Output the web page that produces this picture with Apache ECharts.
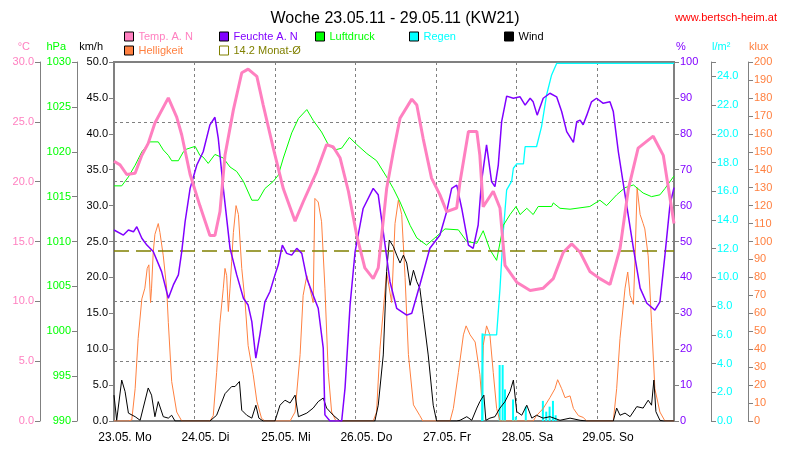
<!DOCTYPE html>
<html>
<head>
<meta charset="utf-8">
<script src="https://cdn.jsdelivr.net/npm/echarts@6.0.0/dist/echarts.min.js"></script>
<style>html,body{margin:0;padding:0;background:#fff}#c{width:790px;height:460px}</style>
</head>
<body>
<div id="c"></div>
<script>
// ---------- data (x = hours since 23.05. 00:00) ----------
const dayLabels = ['23.05. Mo','24.05. Di','25.05. Mi','26.05. Do','27.05. Fr','28.05. Sa','29.05. So'];
const monthAvgTemp = 14.2;

const tempHours = [0,1.8,3.8,6.3,8.3,10.2,12.2,16.2,18.7,20.2,22.7,25.6,28.6,30.1,31.6,33.1,35.6,38.1,40.0,42.6,44.5,47.5,50.5,54.0,56.4,60.4,63.4,65.4,67.4,69.9,72.4,74.8,77.3,78.8,81.3,83.3,85.3,88.8,90.3,92.2,94.7,97.2,99.2,102.2,103.2,105.7,108.2,109.1,110.1,113.1,115.1,116.6,120.1,124.1,128.0,131.0,134.0,136.5,139.0,141.9,144.9,147.9,150.9,153.4,156.3,160.8,163.8,167];
const tempValues = [21.7,21.4,20.6,20.7,22.2,23.2,24.9,27.0,25.4,23.9,20.6,18.0,15.5,15.5,17.5,22.2,26.0,29.1,29.4,28.8,26.4,22.8,19.4,16.7,18.3,20.8,23.1,22.9,22.0,19.2,15.5,12.8,11.9,12.8,19.4,22.5,25.3,26.9,26.4,23.6,20.3,18.9,17.5,17.8,20.0,24.2,24.2,22.2,17.9,19.2,17.8,13.0,11.6,10.9,11.1,11.9,14.1,14.8,14.1,12.5,11.9,11.4,14.4,19.4,22.8,23.8,22.2,16.5];

const humHours = [0,2.8,4.3,5.8,6.8,8.3,9.8,11.7,14.2,16.2,17.7,19.2,20.2,21.2,22.7,24.7,26.6,28.6,30.1,31.1,32.6,34.6,36.6,38.6,40.0,41.1,42.3,43.5,45.0,46.5,48.0,49.0,50.2,51.5,53.0,54.5,56.0,57.5,59.0,60.9,62.4,62.9,64.4,67.9,68.9,70.4,71.9,74.3,77.3,78.8,80.3,82.3,84.3,87.3,88.8,91.2,94.2,97.2,99.2,100.7,102.2,103.7,105.7,107.1,108.6,109.6,111.1,112.6,113.6,114.6,115.6,117.1,119.1,121.1,122.6,124.1,125.0,126.2,128.0,130.0,132.0,133.5,135.0,137.0,138.0,139.0,139.9,141.0,142.4,143.9,145.9,147.9,148.9,150.4,152.4,154.9,156.9,158.9,161.3,162.8,164.3,165.8,167];
const humValues = [53.2,51.8,53.2,52.7,54.1,50.9,49.0,47.2,41.6,34.2,37.9,40.7,47.2,55.5,64.8,71.3,75.0,82.5,84.6,78.7,64.8,48.1,40.7,34.2,32.3,27.7,17.5,24.0,33.2,36.0,40.7,43.5,49.0,46.7,46.2,48.1,46.7,39.7,36.0,31.4,20.3,1.7,0,0,9.2,32.3,47.2,59.2,64.8,63.0,52.7,38.8,31.4,29.5,30.0,37.9,48.1,51.8,58.3,64.8,65.7,59.2,49.0,48.1,54.6,66.7,76.9,66.7,65.3,71.3,83.4,90.5,89.9,90.3,88.0,89.9,88.9,85.2,89.9,91.3,90.3,86.2,80.6,77.6,83.4,83.8,82.5,85.2,88.9,89.9,88.5,88.9,86.2,75.0,63.0,48.1,37.0,32.8,30.9,33.2,46.2,60.2,65.0];

const pressHours = [0,2.3,4.3,6.3,8.3,10.7,13.2,14.7,16.2,17.2,19.2,20.7,21.7,24.2,25.6,26.6,28.1,30.1,32.6,34.6,36.6,38.6,41.1,43.0,45.0,47.5,49.0,50.5,53.0,55.0,57.5,59.4,61.9,63.9,65.9,67.9,70.2,72.4,75.4,78.3,81.3,83.3,85.3,88.3,90.3,93.2,95.7,98.7,102.7,105.2,108.2,110.1,112.1,114.1,116.1,118.1,119.9,121.1,123.1,125.0,126.5,130.5,131.0,133.0,136.0,141.9,144.9,146.9,149.9,152.4,154.9,157.8,160.3,162.8,164.3,167];
const pressValues = [1016.2,1016.2,1017.2,1018.5,1020.0,1021.1,1021.1,1020.2,1019.6,1019.0,1019.0,1020.0,1020.3,1020.6,1019.6,1019.4,1018.7,1019.7,1019.3,1018.3,1017.8,1016.7,1014.6,1014.6,1015.9,1016.7,1017.4,1019.3,1022.1,1023.7,1024.7,1023.5,1022.2,1020.8,1020.2,1020.4,1021.6,1020.8,1019.8,1019.0,1017.2,1015.9,1014.4,1011.8,1010.4,1009.6,1010.4,1011.4,1011.3,1010.0,1009.8,1011.2,1009.1,1007.9,1011.8,1013.0,1013.9,1013.0,1013.7,1013.0,1013.9,1013.9,1014.3,1013.7,1013.6,1013.9,1014.6,1014.0,1015.2,1016.0,1016.3,1015.4,1015.0,1015.2,1015.9,1017.3];

const windHours = [0,0.8,2.3,3.3,4.3,6.3,7.8,8.7,10.2,11.2,12.2,13.2,14.7,16.2,17.2,18.2,28.6,30.6,33.1,35.1,36.1,37.4,38.1,39.6,41.1,42.3,43.2,44.5,48.0,49.5,51.0,52.5,54.0,55.0,57.5,59.4,60.9,62.4,63.4,65.4,67.4,77.8,78.8,80.3,81.3,82.1,83.3,84.3,85.3,86.3,87.3,88.3,89.3,90.3,91.2,92.2,93.7,95.2,96.2,102.2,103.2,105.2,106.7,108.2,109.1,110.3,110.9,112.1,113.6,115.1,116.6,118.1,119.1,120.1,121.6,123.1,124.6,126.0,128.0,130.0,133.0,136.0,139.0,141.0,148.9,149.9,150.9,152.4,153.9,155.9,157.8,159.3,160.3,161.0,161.6,162.8,163.8,167];
const windValues = [3.6,0.1,5.7,4.1,1.1,0.6,0.1,1.8,4.6,3.6,0.6,2.7,0.6,0.4,0.8,0,0,0.8,3.8,4.8,4.8,5.5,1.5,0.8,0.4,2.2,0.4,0,0,2.2,2.9,2.5,3.6,0.6,1.1,1.8,2.7,3.2,1.8,0.8,0,0,2.2,9.2,20.8,25.2,24.3,23.1,22.0,23.1,22.0,18.9,21.0,19.4,18.5,14.8,9.2,2.2,0,0,0.1,0.6,0.1,1.8,2.7,3.6,0.1,0.4,0.6,1.8,2.7,4.1,5.7,1.3,0.8,2.2,0.4,0.8,0.4,0.6,0.1,0.4,0.1,0,0,1.8,0.8,1.1,0.6,2.0,1.8,2.9,2.2,5.7,1.3,0.1,0,0];

const luxHours = [0,4.3,5.3,6.3,7.2,8.3,9.2,9.9,10.4,10.9,11.2,11.7,12.2,13.2,13.7,14.7,15.7,16.2,17.2,18.7,20.2,28.6,29.6,30.6,31.6,32.6,33.1,33.6,34.1,34.6,35.1,35.6,36.4,37.1,38.1,39.1,40.0,41.5,42.6,44.0,45.0,52.5,54.0,55.5,56.4,57.5,58.4,59.4,59.9,60.9,61.9,62.9,63.9,64.9,66.2,77.3,78.3,79.3,81.3,82.8,83.8,84.8,85.8,86.8,87.8,89.3,91.2,92.1,100.2,101.2,102.7,104.2,105.0,106.2,107.7,109.1,109.6,110.1,111.1,112.1,113.1,114.1,115.1,125.0,126.0,128.0,130.0,131.5,132.3,133.5,134.5,136.0,137.0,138.5,139.9,141.0,148.9,149.9,150.9,152.4,153.2,153.9,154.9,155.4,156.0,156.9,157.8,158.3,159.3,160.3,161.3,162.8,164.3,167];
const luxValues = [0,0,0.6,18,46,68,74,85,87,66,74,94,104,110,105,92,74,55,22,5,0,0,3,27,55,74,85,81,61,74,89,105,120,115,85,66,42,26,11,1.5,0,0,5,37,70,81,74,66,124,122,111,74,27,5,0,0,5,40,83,66,110,123,115,80,37,9,3,0,0,7,27,48,53,48,44,26,14,42,53,48,27,7,0,0,3,7,13,18,23,18,13,14,7,3,2,0,0,18,46,74,83,70,65,92,130,115,110,107,92,55,18,5,0,0];

const rainSumHours = [109.7,109.9,114.1,115.1,116.1,117.1,118.6,119.1,120.1,122.1,122.6,126.0,127.5,129.0,130.5,132.0,167];
const rainSumValues = [0,6.0,6.0,9.2,13.2,16.1,16.7,17.6,17.9,17.9,19.1,19.1,20.5,22.7,24.1,24.9,24.9];

const rainHours = [109.9,115.0,115.9,116.6,119.0,119.8,122.8,127.9,128.9,129.9,130.9,131.7];
const rainValues = [6.1,3.9,3.9,2.2,1.5,0.3,1.0,1.4,0.65,1.0,1.4,0.4];

// ---------- chart ----------
function pairs(h, v) { const n = Math.min(h.length, v.length); const o = []; for (let i = 0; i < n; i++) o.push([h[i], v[i]]); return o; }

const FONT = 'Liberation Sans, Arial, Helvetica, sans-serif';
const GRAY = '#808080';
const C = { temp:'#ff80c0', hum:'#8000ff', press:'#00ff00', rain:'#00ffff', wind:'#000000', lux:'#ff8040', avg:'#808000' };

function yAxis(o) {
  return {
    type: 'value', position: o.position, offset: o.offset, min: o.min, max: o.max, interval: o.interval,
    name: o.name, nameLocation: 'end', nameGap: 10, nameMoveOverlap: false,
    nameTextStyle: { color: o.color, fontSize: 11, fontFamily: FONT, align: o.position === 'left' ? 'right' : 'left', padding: o.namePad },
    axisLine: { show: true, onZero: false, lineStyle: { color: GRAY, width: o.lineWidth || 1 } },
    axisTick: { show: true, length: 5, lineStyle: { color: GRAY } },
    axisLabel: { color: o.color, fontSize: 11, fontFamily: FONT, margin: 6, formatter: o.fmt },
    splitLine: o.split ? { show: true, lineStyle: { color: GRAY, type: [3, 3], width: 1 } } : { show: false }
  };
}

const legendDefs = [
  { name: 'Temp. A. N', color: C.temp, left: 124, top: 31 },
  { name: 'Feuchte A. N', color: C.hum, left: 219, top: 31 },
  { name: 'Luftdruck', color: C.press, left: 315, top: 31 },
  { name: 'Regen', color: C.rain, left: 409, top: 31 },
  { name: 'Wind', color: C.wind, left: 504, top: 31 },
  { name: 'Helligkeit', color: C.lux, left: 124, top: 45 },
  { name: '14.2 Monat-Ø', color: C.avg, left: 219, top: 45, open: true }
];

const option = {
  animation: false,
  backgroundColor: '#ffffff',
  title: [
    { text: 'Woche 23.05.11 - 29.05.11 (KW21)', left: 'center', top: 6, textStyle: { color: '#000', fontSize: 16, fontWeight: 'normal', fontFamily: FONT } },
    { text: 'www.bertsch-heim.at', right: 8, top: 7, textStyle: { color: '#ff0000', fontSize: 11, fontWeight: 'normal', fontFamily: FONT } }
  ],
  legend: legendDefs.map(d => ({
    data: [d.open ? { name: d.name, itemStyle: { color: '#ffffff', borderColor: C.avg, borderWidth: 1 } } : d.name],
    left: d.left, top: d.top, padding: 0, itemWidth: 9, itemHeight: 9, itemGap: 0, icon: 'rect',
    selectedMode: false,
    itemStyle: { borderColor: '#000', borderWidth: 1 },
    textStyle: { color: d.color, fontSize: 11, fontFamily: FONT }
  })),
  grid: { left: 114, right: 116, top: 62, bottom: 39, show: true, borderColor: GRAY, borderWidth: 2, backgroundColor: '#fff', containLabel: false, outerBoundsMode: 'none' },
  xAxis: {
    type: 'value', min: 0, max: 167, interval: 24,
    axisLine: { show: false }, axisTick: { show: false },
    axisLabel: { color: '#000', fontSize: 12, fontFamily: FONT, margin: 11, padding: [0, 0, 0, 22],
      formatter: v => { const i = v / 24; return (Number.isInteger(i) && i < dayLabels.length) ? dayLabels[i] : ''; } },
    splitLine: { show: true, lineStyle: { color: GRAY, type: [3, 3], width: 1 } }
  },
  yAxis: [
    yAxis({ position: 'left', offset: 74, min: 0, max: 30, interval: 5, name: '°C', color: C.temp, namePad: [0, 10, 0, 0], fmt: v => v.toFixed(1), split: true }),
    yAxis({ position: 'left', offset: 37, min: 990, max: 1030, interval: 5, name: 'hPa', color: C.press, namePad: [0, 11, 0, 0], fmt: v => String(v) }),
    yAxis({ position: 'left', offset: 0, min: 0, max: 50, interval: 5, name: 'km/h', color: '#000', namePad: [0, 11, 0, 0], fmt: v => v.toFixed(1), lineWidth: 2 }),
    yAxis({ position: 'right', offset: 0, min: 0, max: 100, interval: 10, name: '%', color: C.hum, namePad: [0, 0, 0, 2], fmt: v => String(v), lineWidth: 2 }),
    yAxis({ position: 'right', offset: 37, min: 0, max: 25, interval: 2, name: 'l/m²', color: C.rain, namePad: [0, 0, 0, 1], fmt: v => (v > 24.5 ? '' : v.toFixed(1)) }),
    yAxis({ position: 'right', offset: 74, min: 0, max: 200, interval: 10, name: 'klux', color: C.lux, namePad: [0, 0, 0, 1], fmt: v => String(v) })
  ],
  series: [
    { name: 'Helligkeit', type: 'line', yAxisIndex: 5, data: pairs(luxHours, luxValues), symbol: 'none', lineStyle: { color: C.lux, width: 1 }, itemStyle: { color: C.lux } },
    { name: 'Regen', type: 'bar', yAxisIndex: 4, data: pairs(rainHours, rainValues), barWidth: 2, itemStyle: { color: C.rain } },
    { name: 'Regen', type: 'line', yAxisIndex: 4, data: pairs(rainSumHours, rainSumValues), symbol: 'none', lineStyle: { color: C.rain, width: 1.3 }, itemStyle: { color: C.rain } },
    { name: 'Wind', type: 'line', yAxisIndex: 2, data: pairs(windHours, windValues), symbol: 'none', lineStyle: { color: C.wind, width: 1 }, itemStyle: { color: C.wind } },
    { name: 'Luftdruck', type: 'line', yAxisIndex: 1, data: pairs(pressHours, pressValues), symbol: 'none', lineStyle: { color: C.press, width: 1 }, itemStyle: { color: C.press } },
    { name: '14.2 Monat-Ø', type: 'line', yAxisIndex: 0, data: [[0, monthAvgTemp], [167, monthAvgTemp]], symbol: 'none', lineStyle: { color: C.avg, width: 1.5, type: [15, 7] }, itemStyle: { color: C.avg } },
    { name: 'Feuchte A. N', type: 'line', yAxisIndex: 3, data: pairs(humHours, humValues), symbol: 'none', lineStyle: { color: C.hum, width: 1.5 }, itemStyle: { color: C.hum } },
    { name: 'Temp. A. N', type: 'line', yAxisIndex: 0, data: pairs(tempHours, tempValues), symbol: 'none', lineStyle: { color: C.temp, width: 3 }, itemStyle: { color: C.temp } }
  ]
};

const chart = echarts.init(document.getElementById('c'), null, { renderer: 'canvas', width: 790, height: 460 });
chart.setOption(option);
</script>
</body>
</html>
